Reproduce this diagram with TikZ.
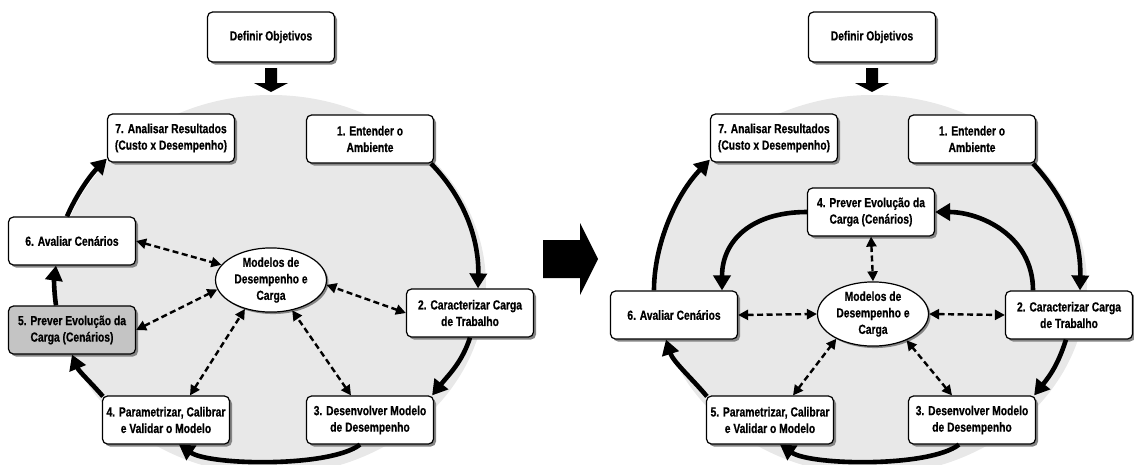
\documentclass[tikz,border=0pt]{standalone}
\usepackage{fontspec}
\setmainfont{Liberation Sans}[FakeStretch=0.78, BoldFeatures={FakeBold=0.6}]
\usetikzlibrary{arrows.meta,shapes.geometric,shadows,calc}

\definecolor{cyclegray}{HTML}{E8E8E8}
\definecolor{stepgray}{HTML}{C4C4C4}
\definecolor{shadowgray}{HTML}{858585}

\tikzset{
  labelfont/.style={font=\bfseries\fontsize{13.2}{16.5}\selectfont},
  stagebox/.style={labelfont, draw, line width=1.2pt, rounded corners=5pt, fill=white,
    minimum width=127pt, minimum height=48pt, align=center, inner sep=2pt,
    drop shadow={shadow xshift=2.5pt, shadow yshift=-2.5pt, fill=shadowgray, opacity=1}},
  hub/.style={labelfont, ellipse, draw, line width=1.2pt, fill=white, inner sep=0pt,
    minimum width=111pt, minimum height=62pt, align=center,
    drop shadow={shadow xshift=2pt, shadow yshift=-2pt, fill=shadowgray, opacity=1}},
  flow/.style={line width=4.6pt, -{Triangle[length=15pt,width=17pt]}},
  link/.style={line width=2.4pt, dash pattern=on 6pt off 3.5pt,
    {Triangle[length=10pt,width=10pt]}-{Triangle[length=10pt,width=10pt]}},
}

\begin{document}
\begin{tikzpicture}[x=1pt,y=-1pt]
\useasboundingbox (0,0) rectangle (1134,464);

% grey cycle backgrounds
\fill[cyclegray] (271,285) ellipse [x radius=215, y radius=190];
\fill[cyclegray] (872,285) ellipse [x radius=215, y radius=190];

% ---------------- first cycle ----------------
\node[stagebox, minimum height=50pt] (D1) at (271,37) {Definir Objetivos};
\fill (265,68) -- (277,68) -- (277,83) -- (288,83) -- (271,92) -- (254,83) -- (265,83) -- cycle;

\node[stagebox] (L7) at (171,138) {7. Analisar Resultados\\(Custo x Desempenho)};
\node[stagebox] (L1) at (370,139) {1. Entender o\\Ambiente};
\node[stagebox] (L6) at (72,241) {6. Avaliar Cenários};
\node[stagebox, fill=stepgray] (L5) at (72,330) {5. Prever Evolução da\\Carga (Cenários)};
\node[stagebox] (L2) at (470,313) {2. Caracterizar Carga\\de Trabalho};
\node[stagebox] (L4) at (166,420) {4. Parametrizar, Calibrar\\e Validar o Modelo};
\node[stagebox] (L3) at (370,420) {3. Desenvolver Modelo\\de Desempenho};
\node[hub] (LE) at (271,280) {Modelos de\\Desempenho e\\Carga};

\draw[flow] ($(L1.south east)+(-3,0)$) .. controls +(35,36) and +(1,-47) .. ($(L2.north)+(8,0)$);
\draw[flow] (L2.south) .. controls +(-8,25) and +(16,-20) .. ($(L3.north east)+(-2,0)$);
\draw[flow] ($(L3.south)+(-10,0)$) .. controls +(-30,23) and +(31,21) .. ($(L4.south)+(13,0)$);
\draw[flow] ($(L4.north west)+(1,1)$) .. controls +(-12,-14) and +(7,17) .. (L5.south);
\draw[flow] ($(L5.north)+(-16,0)$) .. controls +(-2,-14) and +(-2,14) .. ($(L6.south)+(-16,0)$);
\draw[flow] ($(L6.north)+(-5,0)$) .. controls +(9,-21) and +(-17,17) .. ($(L7.south west)+(0,-4)$);

\draw[link] (L6.east) -- (LE.163);
\draw[link] (L5.east) -- (LE.190);
\draw[link] ($(L4.north)+(24,0)$) -- (LE.228);
\draw[link] ($(L3.north)+(-19,0)$) -- (LE.305);
\draw[link] (L2.west) -- (LE.355);

% transition arrow
\fill (543,240) -- (580,240) -- (580,223) -- (598,259) -- (580,295) -- (580,278) -- (543,278) -- cycle;

% ---------------- second cycle ----------------
\node[stagebox, minimum height=50pt] (D2) at (872,37) {Definir Objetivos};
\fill (866,68) -- (878,68) -- (878,83) -- (889,83) -- (872,92) -- (855,83) -- (866,83) -- cycle;

\node[stagebox] (R7) at (774,138) {7. Analisar Resultados\\(Custo x Desempenho)};
\node[stagebox] (R1) at (972,139) {1. Entender o\\Ambiente};
\node[stagebox] (R4) at (871,212) {4. Prever Evolução da\\Carga (Cenários)};
\node[stagebox] (R6) at (674,315) {6. Avaliar Cenários};
\node[stagebox] (R2) at (1069,315) {2. Caracterizar Carga\\de Trabalho};
\node[stagebox] (R5) at (770,420) {5. Parametrizar, Calibrar\\e Validar o Modelo};
\node[stagebox] (R3) at (972,420) {3. Desenvolver Modelo\\de Desempenho};
\node[hub] (RE) at (873,314) {Modelos de\\Desempenho e\\Carga};

\draw[flow] ($(R1.south east)+(-3,0)$) .. controls +(35,38) and +(1,-50) .. ($(R2.north)+(11,0)$);
\draw[flow] ($(R2.south)+(-3,0)$) .. controls +(-8,25) and +(16,-20) .. ($(R3.north east)+(-2,0)$);
\draw[flow] ($(R3.south)+(-13,0)$) .. controls +(-30,23) and +(31,21) .. ($(R5.south)+(10,0)$);
\draw[flow] ($(R5.north west)+(1,1)$) .. controls +(-15,-18) and +(7,22) .. ($(R6.south)+(-8,0)$);
\draw[flow] ($(R6.north)+(-20,0)$) .. controls +(0,-46) and +(-34,35) .. ($(R7.south west)+(0,-3)$);
\draw[flow] ($(R2.north)+(-36,0)$) .. controls +(0,-55) and +(45,0) .. (R4.east);
\draw[flow] (R4.west) .. controls +(-55,0) and +(0,-50) .. ($(R6.north)+(48,0)$);

\draw[link] (R4.south) -- (RE.north);
\draw[link] (R6.east) -- (RE.west);
\draw[link] (RE.east) -- (R2.west);
\draw[link] ($(R5.north)+(23,0)$) -- (RE.214);
\draw[link] ($(R3.north)+(-20,0)$) -- (RE.322);
\end{tikzpicture}
\end{document}
